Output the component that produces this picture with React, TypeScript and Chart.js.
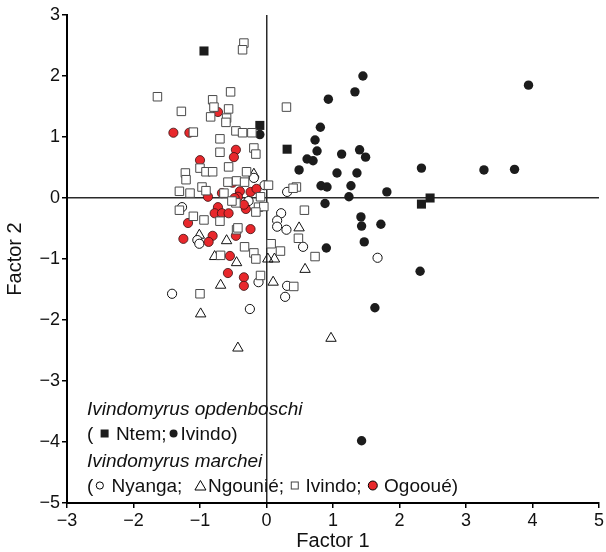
import React, { useEffect, useRef } from 'react';
import { Chart, registerables } from 'chart.js';

Chart.register(...registerables);

// ---- Axis ticks ----
const xTicks = [-3, -2, -1, 0, 1, 2, 3, 4, 5];
const yTicks = [-5, -4, -3, -2, -1, 0, 1, 2, 3];

// ---- Ivindomyrus opdenboschi ----
const ntemPoints: [number, number][] = [
  [-0.94, 2.41], [-0.10, 1.19], [0.31, 0.80], [2.33, -0.10], [2.46, 0.0],
];
const ivindoOpdPoints: [number, number][] = [
  [1.45, 2.0], [1.33, 1.74], [0.93, 1.62], [3.94, 1.85], [0.81, 1.16], [0.73, 0.95],
  [0.76, 0.77], [0.61, 0.64], [0.70, 0.61], [0.49, 0.46], [1.13, 0.72], [1.40, 0.79],
  [1.49, 0.67], [1.06, 0.41], [1.36, 0.41], [2.33, 0.49], [3.27, 0.46], [3.73, 0.47],
  [0.82, 0.20], [0.91, 0.18], [1.27, 0.20], [1.81, 0.10], [1.24, 0.02], [0.88, -0.09],
  [1.42, -0.31], [1.43, -0.46], [1.72, -0.43], [1.47, -0.72], [0.90, -0.82], [2.31, -1.20],
  [1.63, -1.80], [1.43, -3.98], [-0.10, 1.04],
];

// ---- Ivindomyrus marchei ----
const nyangaPoints: [number, number][] = [
  [-0.19, 0.33], [-0.03, 0.21], [-0.27, -0.05], [-1.27, -0.15], [-1.04, -0.69], [-1.01, -0.75],
  [0.31, 0.10], [0.22, -0.25], [0.16, -0.37], [0.16, -0.47], [0.30, -0.52], [0.55, -0.80],
  [0.31, -1.44], [0.28, -1.62], [1.67, -0.98], [-0.12, -1.38], [-1.42, -1.57], [-0.25, -1.82],
];
const ngouniePoints: [number, number][] = [
  [-0.19, 0.39], [-1.01, -0.61], [-0.60, -0.70], [-0.78, -0.96], [-0.45, -1.06], [0.02, -1.0],
  [0.12, -1.0], [0.10, -1.38], [0.49, -0.49], [0.58, -1.17], [-0.99, -1.90], [-0.43, -2.46],
  [0.97, -2.30], [-0.69, -1.43],
];
const ivindoMarPoints: [number, number][] = [
  [-0.34, 2.54], [-0.36, 2.43], [-1.64, 1.66], [-0.54, 1.74], [-0.81, 1.61], [-0.79, 1.49],
  [-1.28, 1.42], [-0.57, 1.46], [-0.84, 1.33], [-0.60, 1.31], [-0.61, 1.24], [-1.10, 1.08],
  [-0.46, 1.10], [-0.36, 1.07], [-0.22, 1.07], [-0.70, 0.97], [-0.19, 0.82], [-0.16, 0.72],
  [-0.70, 0.75], [0.30, 1.49], [-0.57, 0.51], [-1.22, 0.41], [-1.21, 0.30], [-1.0, 0.49],
  [-0.91, 0.43], [-0.81, 0.43], [-0.30, 0.43], [-0.58, 0.26], [-0.45, 0.28], [-0.33, 0.26],
  [-0.97, 0.18], [-0.91, 0.12], [-1.31, 0.11], [-1.15, 0.08], [-0.64, 0.08], [0.03, 0.21],
  [-0.46, -0.08], [-0.09, 0.02], [-0.12, -0.15], [-0.04, -0.14], [-1.31, -0.20], [-1.10, -0.30],
  [-0.94, -0.36], [-0.70, -0.38], [-0.45, -0.52], [-0.33, -0.80], [-0.19, -0.90], [-0.16, -1.0],
  [-0.69, -0.94], [0.07, -0.75], [-0.09, -1.27], [0.45, 0.18], [0.57, -0.20], [0.48, -0.66],
  [0.21, -0.87], [0.73, -0.96], [0.41, -1.45], [-1.0, -1.57], [-0.52, -0.05], [-0.16, -0.23],
  [-0.43, -0.49], [0.40, 0.16],
];
const ogouePoints: [number, number][] = [
  [-0.73, 1.41], [-1.40, 1.07], [-1.16, 1.07], [-0.46, 0.79], [-0.49, 0.67], [-1.0, 0.62],
  [-0.88, 0.02], [-0.67, 0.08], [-0.51, 0.25], [-0.40, 0.11], [-0.43, 0.02], [-0.24, 0.10],
  [-0.15, 0.15], [-0.73, -0.15], [-0.78, -0.25], [-0.67, -0.25], [-0.57, -0.25], [-0.31, -0.18],
  [-0.34, -0.11], [-1.18, -0.41], [-0.24, -0.51], [-0.46, -0.62], [-0.81, -0.62], [-0.87, -0.72],
  [-1.25, -0.67], [-0.55, -0.95], [-0.58, -1.23], [-0.34, -1.30], [-0.34, -1.44], [-0.48, 0.0],
];

const FONT = "'Liberation Sans', Arial, Helvetica, sans-serif";
const RED = '#e8282c';
const BLACK = '#1c1c1c';

const toXY = (pts: [number, number][]) => pts.map(([x, y]) => ({ x, y }));
const fmt = (v: number) => (v < 0 ? '\u2212' + Math.abs(v) : String(v));

type Seg = { t?: string; s?: string; w?: number };

const drawSym = (ctx: CanvasRenderingContext2D, s: string, cx: number, cy: number) => {
  ctx.save();
  ctx.lineWidth = 1;
  ctx.strokeStyle = '#000';
  if (s === 'fsq') {
    ctx.fillStyle = BLACK;
    ctx.fillRect(cx - 4, cy - 4, 8, 8);
  } else if (s === 'fci') {
    ctx.fillStyle = BLACK;
    ctx.beginPath(); ctx.arc(cx, cy, 4, 0, Math.PI * 2); ctx.fill();
  } else if (s === 'oci') {
    ctx.fillStyle = '#fff';
    ctx.beginPath(); ctx.arc(cx, cy, 3.6, 0, Math.PI * 2); ctx.fill(); ctx.stroke();
  } else if (s === 'otr') {
    ctx.beginPath();
    ctx.moveTo(cx, cy - 5); ctx.lineTo(cx + 5.5, cy + 4.5); ctx.lineTo(cx - 5.5, cy + 4.5); ctx.closePath();
    ctx.stroke();
  } else if (s === 'osq') {
    ctx.strokeStyle = '#444';
    ctx.strokeRect(cx - 3.5, cy - 3.5, 7, 7);
  } else if (s === 'rci') {
    ctx.fillStyle = RED;
    ctx.beginPath(); ctx.arc(cx, cy, 4.5, 0, Math.PI * 2); ctx.fill(); ctx.stroke();
  }
  ctx.restore();
};

const legendPlugin = {
  id: 'textLegend',
  afterDatasetsDraw(chart: any) {
    const ctx: CanvasRenderingContext2D = chart.ctx;
    const { left, bottom } = chart.chartArea;
    const x0 = left + 20;
    const lines: { y: number; italic: boolean; segs: Seg[] }[] = [
      { y: bottom - 88, italic: true, segs: [{ t: 'Ivindomyrus opdenboschi' }] },
      { y: bottom - 63, italic: false, segs: [{ t: '( ' }, { s: 'fsq', w: 12 }, { t: ' Ntem;' }, { s: 'fci', w: 14 }, { t: 'Ivindo)' }] },
      { y: bottom - 36, italic: true, segs: [{ t: 'Ivindomyrus marchei' }] },
      { y: bottom - 11, italic: false, segs: [
        { t: '(' }, { s: 'oci', w: 13 }, { t: ' Nyanga;  ' }, { s: 'otr', w: 15 }, { t: 'Ngouni\u00e9; ' },
        { s: 'osq', w: 11 }, { t: ' Ivindo; ' }, { s: 'rci', w: 12 }, { t: ' Ogoou\u00e9)' },
      ] },
    ];
    ctx.save();
    ctx.fillStyle = '#111';
    ctx.textBaseline = 'alphabetic';
    ctx.textAlign = 'left';
    for (const line of lines) {
      ctx.font = (line.italic ? 'italic ' : '') + '19px ' + FONT;
      let x = x0;
      for (const seg of line.segs) {
        if (seg.t !== undefined) {
          ctx.fillText(seg.t, x, line.y);
          x += ctx.measureText(seg.t).width;
        } else if (seg.s) {
          const w = seg.w || 12;
          drawSym(ctx, seg.s, x + w / 2, line.y - 6.5);
          x += w;
        }
      }
    }
    ctx.restore();
  },
};

export default function App() {
  const ref = useRef<HTMLCanvasElement | null>(null);

  useEffect(() => {
    if (!ref.current) return;
    const chart = new Chart(ref.current, {
      type: 'scatter',
      data: {
        datasets: [
          {
            label: 'I. marchei Ivindo',
            data: toXY(ivindoMarPoints),
            pointStyle: 'rect',
            pointRadius: 6,
            backgroundColor: '#ffffff',
            borderColor: '#4a4a4a',
            borderWidth: 1,
          },
          {
            label: 'Ogooué',
            data: toXY(ogouePoints),
            pointStyle: 'circle',
            pointRadius: 4.6,
            backgroundColor: RED,
            borderColor: '#3a1010',
            borderWidth: 0.8,
          },
          {
            label: 'Nyanga',
            data: toXY(nyangaPoints),
            pointStyle: 'circle',
            pointRadius: 4.6,
            backgroundColor: '#ffffff',
            borderColor: '#111',
            borderWidth: 1,
          },
          {
            label: 'Ngounié',
            data: toXY(ngouniePoints),
            pointStyle: 'triangle',
            pointRadius: 6,
            backgroundColor: 'rgba(255,255,255,0)',
            borderColor: '#111',
            borderWidth: 1,
          },
          {
            label: 'Ntem',
            data: toXY(ntemPoints),
            pointStyle: 'rect',
            pointRadius: 6.4,
            backgroundColor: BLACK,
            borderColor: BLACK,
            borderWidth: 0,
          },
          {
            label: 'I. opdenboschi Ivindo',
            data: toXY(ivindoOpdPoints),
            pointStyle: 'circle',
            pointRadius: 4.7,
            backgroundColor: BLACK,
            borderColor: BLACK,
            borderWidth: 0,
          },
        ],
      },
      options: {
        animation: false,
        responsive: false,
        devicePixelRatio: 1,
        layout: { padding: { left: 0, top: 15, right: 3, bottom: 0 } },
        plugins: {
          legend: { display: false },
          tooltip: { enabled: false },
        },
        scales: {
          x: {
            type: 'linear',
            min: -3,
            max: 5,
            afterBuildTicks: (s: any) => { s.ticks = xTicks.map((v) => ({ value: v })); },
            afterFit: (s: any) => { s.height = 49; },
            border: { display: true, color: '#000', width: 2 },
            grid: {
              drawOnChartArea: true,
              drawTicks: true,
              tickLength: 5,
              tickColor: '#000',
              tickWidth: 1.5,
              lineWidth: 1.5,
              color: (c: any) => (c.tick && c.tick.value === 0 ? '#2a2a2a' : 'rgba(0,0,0,0)'),
            },
            ticks: {
              color: '#111',
              padding: 2,
              maxRotation: 0,
              autoSkip: false,
              font: { family: FONT, size: 18 },
              callback: (v: any) => fmt(Number(v)),
            },
            title: {
              display: true,
              text: 'Factor 1',
              color: '#111',
              font: { family: FONT, size: 20, lineHeight: 1.0 },
              padding: { top: 0, bottom: 1 },
            },
          },
          y: {
            type: 'linear',
            min: -5,
            max: 3,
            afterBuildTicks: (s: any) => { s.ticks = yTicks.map((v) => ({ value: v })); },
            afterFit: (s: any) => { s.width = 67; },
            border: { display: true, color: '#000', width: 2 },
            grid: {
              drawOnChartArea: true,
              drawTicks: true,
              tickLength: 5,
              tickColor: '#000',
              tickWidth: 1.5,
              lineWidth: 1.5,
              color: (c: any) => (c.tick && c.tick.value === 0 ? '#2a2a2a' : 'rgba(0,0,0,0)'),
            },
            ticks: {
              color: '#111',
              padding: 2,
              autoSkip: false,
              font: { family: FONT, size: 18 },
              callback: (v: any) => fmt(Number(v)),
            },
            title: {
              display: true,
              text: 'Factor 2',
              color: '#111',
              font: { family: FONT, size: 20, lineHeight: 1.0 },
              padding: { top: 5, bottom: 0 },
            },
          },
        },
      },
      plugins: [legendPlugin],
    });
    return () => chart.destroy();
  }, []);

  return (
    <div style={{ position: 'fixed', left: 0, top: 0, width: 606, height: 552, background: '#fff' }}>
      <canvas ref={ref} width={606} height={552} style={{ width: 606, height: 552, display: 'block' }} />
    </div>
  );
}
